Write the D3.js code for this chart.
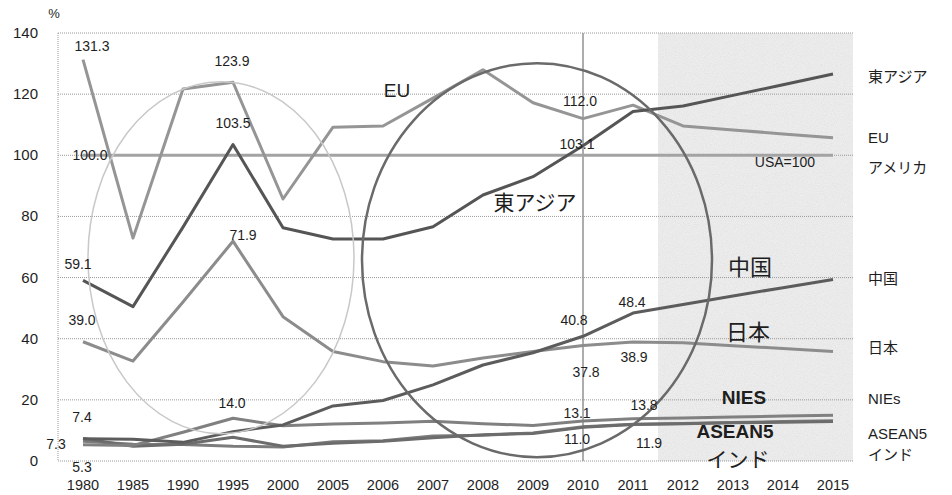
<!DOCTYPE html>
<html>
<head>
<meta charset="utf-8">
<script src="https://cdn.jsdelivr.net/npm/d3@7"></script>
<style>
  html, body { margin: 0; padding: 0; background: #fff; }
  svg { display: block; }
  text { font-family: "Liberation Sans", Arial, sans-serif; fill: #1e1e1e; }
  .jp { font-family: "Noto Sans CJK JP", sans-serif; }
</style>
</head>
<body>
<svg id="chart" width="952" height="495"></svg>
<script>
// Categories (x axis)
const years = ["1980","1985","1990","1995","2000","2005","2006","2007","2008","2009","2010","2011","2012","2013","2014","2015"];
const yTicks = [0, 20, 40, 60, 80, 100, 120, 140];

// GDP relative to USA (%)
const eu       = [131.3, 72.9, 121.7, 123.9, 85.7, 109.2, 109.6, 118.7, 128.0, 117.2, 112.0, 116.4, 109.6, 108.3, 107.0, 105.7];
const eastAsia = [59.1, 50.5, 76.5, 103.5, 76.3, 72.6, 72.6, 76.6, 87.0, 93.0, 103.1, 114.3, 116.1, 119.6, 123.1, 126.6];
const usa      = [100, 100, 100, 100, 100, 100, 100, 100, 100, 100, 100, 100, 100, 100, 100, 100];
const china    = [7.3, 7.1, 6.1, 9.6, 11.8, 18.0, 19.8, 24.9, 31.4, 35.4, 40.8, 48.4, 51.2, 54.0, 56.7, 59.4];
const japan    = [39.0, 32.7, 52.0, 71.9, 47.2, 35.8, 32.5, 31.1, 33.7, 35.8, 37.8, 38.9, 38.7, 37.7, 36.8, 35.8];
const nies     = [5.3, 5.1, 9.4, 14.0, 11.5, 12.1, 12.4, 13.0, 12.2, 11.6, 13.1, 13.8, 14.1, 14.4, 14.7, 15.0];
const asean5   = [7.4, 4.8, 5.5, 7.8, 4.8, 5.8, 6.5, 7.6, 8.6, 9.0, 11.0, 11.9, 12.2, 12.5, 12.7, 12.9];
const india    = [6.5, 5.5, 5.4, 4.8, 4.6, 6.3, 6.6, 8.2, 8.4, 9.2, 11.2, 12.0, 12.3, 12.6, 12.9, 13.2];

const series = [
  { key: "usa",      name: "アメリカ", values: usa,      color: "#a3a3a3", width: 3 },
  { key: "eu",       name: "EU",       values: eu,       color: "#959595", width: 3 },
  { key: "japan",    name: "日本",     values: japan,    color: "#8c8c8c", width: 3 },
  { key: "india",    name: "インド",   values: india,    color: "#7c7c7c", width: 3 },
  { key: "asean5",   name: "ASEAN5",   values: asean5,   color: "#6c6c6c", width: 3 },
  { key: "nies",     name: "NIEs",     values: nies,     color: "#808080", width: 3 },
  { key: "china",    name: "中国",     values: china,    color: "#5c5c5c", width: 3 },
  { key: "eastAsia", name: "東アジア", values: eastAsia, color: "#555555", width: 3 }
];
const byKey = Object.fromEntries(series.map(s => [s.key, s]));

// Value labels: series, category, offset of the text from the point
const valueLabels = [
  { key: "eu", year: "1980", dx: 9, dy: -9 },
  { key: "eu", year: "1995", dx: -1, dy: -16 },
  { key: "eu", year: "2010", dx: -3, dy: -13 },
  { key: "usa", year: "1980", dx: 7, dy: 5 },
  { key: "eastAsia", year: "1995", dx: 0, dy: -17 },
  { key: "eastAsia", year: "2010", dx: -6, dy: 3 },
  { key: "eastAsia", year: "1980", dx: -5, dy: -11 },
  { key: "japan", year: "1980", dx: -1, dy: -17 },
  { key: "japan", year: "1995", dx: 10, dy: -1 },
  { key: "japan", year: "2010", dx: 3, dy: 32 },
  { key: "japan", year: "2011", dx: 1, dy: 20 },
  { key: "china", year: "2010", dx: -9, dy: -11 },
  { key: "china", year: "2011", dx: -1, dy: -6 },
  { key: "nies", year: "1995", dx: -1, dy: -10 },
  { key: "nies", year: "2010", dx: -6, dy: -3 },
  { key: "nies", year: "2011", dx: 11, dy: -9 },
  { key: "asean5", year: "2010", dx: -6, dy: 17 },
  { key: "asean5", year: "2011", dx: 16, dy: 23 },
  { key: "asean5", year: "1980", dx: -1, dy: -16 },
  { key: "china", year: "1980", dx: -27, dy: 10 },
  { key: "nies", year: "1980", dx: -1, dy: 27 }
];

const svg = d3.select("#chart");
const plotLeft = 58, plotRight = 854, plotTop = 33, plotBottom = 461;

const x = d3.scalePoint().domain(years).range([58, 858]).padding(0.5);
const y = d3.scaleLinear().domain([0, 140]).range([plotBottom, plotTop]);

// Texture for the forecast band
const defs = svg.append("defs");
const grain = defs.append("filter").attr("id", "grain")
  .attr("x", 0).attr("y", 0).attr("width", "100%").attr("height", "100%");
grain.append("feTurbulence").attr("type", "fractalNoise")
  .attr("baseFrequency", 1.1).attr("numOctaves", 1).attr("seed", 7);
grain.append("feColorMatrix").attr("type", "matrix")
  .attr("values", "1 0 0 0 0  1 0 0 0 0  1 0 0 0 0  0 0 0 0 1");

// Forecast band (2012 onward)
const bandX = (x("2011") + x("2012")) / 2;
svg.append("rect").attr("x", bandX).attr("y", plotTop)
  .attr("width", plotRight - 1 - bandX).attr("height", plotBottom - plotTop)
  .attr("fill", "#f1f1f1");
svg.append("rect").attr("x", bandX).attr("y", plotTop)
  .attr("width", plotRight - 1 - bandX).attr("height", plotBottom - plotTop)
  .attr("filter", "url(#grain)").attr("opacity", 0.12);

// Gridlines
svg.append("g").selectAll("line").data(yTicks).join("line")
  .attr("x1", plotLeft).attr("x2", plotRight)
  .attr("y1", d => y(d)).attr("y2", d => y(d))
  .attr("stroke", "#9a9a9a").attr("stroke-width", 1)
  .attr("stroke-dasharray", "1,1");
svg.append("line")
  .attr("x1", plotLeft).attr("x2", plotLeft)
  .attr("y1", plotTop).attr("y2", plotBottom)
  .attr("stroke", "#9a9a9a").attr("stroke-dasharray", "1,1");

// 2010 marker line
svg.append("line")
  .attr("x1", x("2010")).attr("x2", x("2010"))
  .attr("y1", plotTop).attr("y2", plotBottom)
  .attr("stroke", "#8a8a8a").attr("stroke-width", 1.4);

// Y axis labels
svg.append("g").selectAll("text").data(yTicks).join("text")
  .attr("x", 38).attr("y", d => y(d) + 5)
  .attr("text-anchor", "end").attr("font-size", 15)
  .text(d => d);
svg.append("text").attr("x", 54).attr("y", 18).attr("text-anchor", "middle")
  .attr("font-size", 13).text("%");

// X axis labels
svg.append("g").selectAll("text").data(years).join("text")
  .attr("x", d => x(d)).attr("y", 490)
  .attr("text-anchor", "middle").attr("font-size", 14.5)
  .text(d => d);

// Series lines
const line = d3.line().x((d, i) => x(years[i])).y(d => y(d));
svg.append("g").selectAll("path").data(series).join("path")
  .attr("d", d => line(d.values))
  .attr("fill", "none")
  .attr("stroke", d => d.color)
  .attr("stroke-width", d => d.width)
  .attr("stroke-linejoin", "round");

// Highlight ellipses
svg.append("ellipse")
  .attr("cx", (x("1990") + x("1995")) / 2 + 13).attr("cy", y(66.5))
  .attr("rx", 133).attr("ry", 176)
  .attr("fill", "none").attr("stroke", "#c8c8c8").attr("stroke-width", 1.5);
svg.append("ellipse")
  .attr("cx", (x("2008") + x("2009")) / 2 + 29).attr("cy", y(65.7))
  .attr("rx", 175).attr("ry", 197)
  .attr("fill", "none").attr("stroke", "#6a6a6a").attr("stroke-width", 2.5);

// Value labels
svg.append("g").selectAll("text").data(valueLabels).join("text")
  .attr("x", d => x(d.year) + d.dx)
  .attr("y", d => y(byKey[d.key].values[years.indexOf(d.year)]) + d.dy)
  .attr("text-anchor", "middle").attr("font-size", 14)
  .text(d => byKey[d.key].values[years.indexOf(d.year)].toFixed(1));

svg.append("text")
  .attr("x", x("2014") + 2).attr("y", y(100) + 12)
  .attr("text-anchor", "middle").attr("font-size", 14).text("USA=100");

// Names on the chart
const inline = [
  { text: "EU",       year: "2007", dx: -36, v: 119, size: 19, cls: "", weight: "normal" },
  { text: "東アジア", year: "2008", dx: 52,  v: 82,  size: 21, cls: "jp", weight: "normal" },
  { text: "中国",     year: "2013", dx: 17,  v: 61,  size: 22, cls: "jp", weight: "normal" },
  { text: "日本",     year: "2013", dx: 15,  v: 39.5, size: 22, cls: "jp", weight: "normal" },
  { text: "NIES",     year: "2013", dx: 11,  v: 18.8, size: 19, cls: "", weight: "bold" },
  { text: "ASEAN5",   year: "2013", dx: 2,   v: 7.5, size: 19, cls: "", weight: "bold" },
  { text: "インド",   year: "2013", dx: 5,   v: -2,  size: 21, cls: "jp", weight: "normal" }
];
svg.append("g").selectAll("text").data(inline).join("text")
  .attr("class", d => d.cls)
  .attr("x", d => x(d.year) + d.dx)
  .attr("y", d => y(d.v))
  .attr("text-anchor", "middle")
  .attr("font-size", d => d.size)
  .attr("font-weight", d => d.weight)
  .text(d => d.text);

// Names at the right end
const rightNames = [
  { key: "eastAsia", dy: 8 },
  { key: "eu", dy: 5 },
  { key: "usa", dy: 18 },
  { key: "china", dy: 5 },
  { key: "japan", dy: 1 },
  { key: "nies", dy: -11 },
  { key: "asean5", dy: 17 },
  { key: "india", dy: 39 }
];
svg.append("g").selectAll("text").data(rightNames).join("text")
  .attr("class", d => /^[A-Za-z0-9]+$/.test(byKey[d.key].name) ? "" : "jp")
  .attr("x", 868)
  .attr("y", d => y(byKey[d.key].values[years.length - 1]) + d.dy)
  .attr("font-size", 15)
  .text(d => byKey[d.key].name);
</script>
</body>
</html>
